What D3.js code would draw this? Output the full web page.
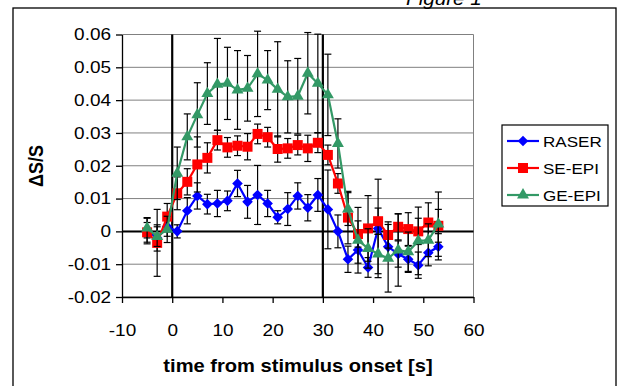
<!DOCTYPE html>
<html>
<head>
<meta charset="utf-8">
<script src="https://cdn.jsdelivr.net/npm/d3@7"></script>
<style>
  body { margin: 0; background: #fff; }
  svg { display: block; font-family: "Liberation Sans", Arial, sans-serif; }
</style>
</head>
<body>
<div id="chart"></div>
<script>
// time points (s) and the three series
let times = [-5, -3, -1, 1, 3, 5, 7, 9, 11, 13, 15, 17, 19, 21, 23, 25, 27, 29, 31, 33, 35, 37, 39, 41, 43, 45, 47, 49, 51, 53];

let raser = [0.0002, -0.002, 0.0015, 0, 0.0063, 0.0108, 0.0083, 0.0085, 0.0093, 0.0146, 0.009, 0.0111, 0.0085, 0.0043, 0.0068,
    0.0108, 0.0072, 0.0111, 0.0067, 0, -0.0085, -0.0057, -0.011, 0.0009, -0.0047, -0.0069, -0.0085, -0.0103, -0.0065, -0.0047];
let raserErr = [0.004, 0.004, 0.003, 0.002, 0.004, 0.004, 0.003, 0.004, 0.003, 0.004, 0.005, 0.009, 0.004, 0.002, 0.005,
    0.004, 0.004, 0.005, 0.012, 0.005, 0.004, 0.004, 0.003, 0.015, 0.004, 0.004, 0.004, 0.004, 0.004, 0.004];

let seEpi = [-0.0003, -0.0035, 0.0045, 0.0116, 0.0151, 0.0204, 0.0224, 0.0278, 0.0256, 0.0261, 0.0258, 0.0297, 0.0287, 0.0251, 0.0253,
    0.0263, 0.0253, 0.027, 0.0233, 0.0146, 0.0042, -0.0008, 0.0009, 0.0031, -0.0011, 0.0014, 0.0007, 0, 0.0027, 0.0017];
let seEpiErr = [0.003, 0.0102, 0.004, 0.005, 0.004, 0.0084, 0.0046, 0.003, 0.003, 0.003, 0.004, 0.003, 0.003, 0.004, 0.003,
    0.003, 0.004, 0.003, 0.003, 0.003, 0.008, 0.004, 0.01, 0.004, 0.004, 0.004, 0.005, 0.004, 0.006, 0.005];

let geEpi = [0.001, -0.0016, 0.0006, 0.0177, 0.0288, 0.0355, 0.042, 0.0448, 0.0451, 0.0431, 0.0436, 0.048, 0.0461, 0.0433, 0.041,
    0.0412, 0.0482, 0.0451, 0.0416, 0.0268, 0.0068, -0.0027, -0.0052, -0.0069, -0.0082, -0.0057, -0.0062, -0.0029, -0.0027, 0.0022];
let geEpiErr = [0.003, 0.003, 0.004, 0.008, 0.007, 0.0098, 0.0094, 0.014, 0.011, 0.012, 0.01, 0.013, 0.009, 0.0145, 0.011,
    0.0115, 0.0124, 0.015, 0.0124, 0.0075, 0.005, 0.01, 0.006, 0.006, 0.0103, 0.011, 0.006, 0.0103, 0.005, 0.0098];

let seriesNames = ["RASER", "SE-EPI", "GE-EPI"];
let xTicks = [-10, 0, 10, 20, 30, 40, 50, 60];
let yTicks = [-0.02, -0.01, 0, 0.01, 0.02, 0.03, 0.04, 0.05, 0.06];
let stimulusEdges = [0, 30];

let series = [
    { name: seriesNames[0], values: raser, err: raserErr, color: "#0000ff", shape: "diamond" },
    { name: seriesNames[1], values: seEpi, err: seEpiErr, color: "#ff0000", shape: "square" },
    { name: seriesNames[2], values: geEpi, err: geEpiErr, color: "#339966", shape: "triangle" }
];

let W = 622, H = 386;
let stretchX = 1.15; // text in the picture is a bit wider than tall

let svg = d3.select("#chart").append("svg")
    .attr("width", W)
    .attr("height", H);

// outer frame and the clipped caption above it
svg.append("rect")
    .attr("x", 13).attr("y", 8)
    .attr("width", 603).attr("height", 400)
    .attr("fill", "none")
    .attr("stroke", "#000")
    .attr("stroke-width", 1.3);

function label(x, y, txt, opts) {
    let g = svg.append("g").attr("transform", "translate(" + x + "," + y + ")" + (opts.rotate ? " rotate(-90)" : ""));
    let t = g.append("text")
        .attr("text-anchor", opts.anchor || "start")
        .attr("transform", opts.rotate ? "scale(1," + stretchX + ")" : "scale(" + stretchX + ",1)")
        .style("font-size", opts.size + "px")
        .style("font-weight", opts.bold ? "bold" : "normal")
        .style("font-style", opts.italic ? "italic" : "normal")
        .text(txt);
    return t;
}

label(406, 5, "Figure 1", { size: 18, italic: true });

let x = d3.scaleLinear().domain([-10, 60]).range([122, 473.5]);
let y = d3.scaleLinear().domain([-0.02, 0.06]).range([297, 34.5]);

// gridlines
svg.append("g")
    .selectAll("line")
    .data(yTicks)
    .join("line")
    .attr("x1", x(-10)).attr("x2", x(60))
    .attr("y1", d => y(d)).attr("y2", d => y(d))
    .attr("stroke", "#808080")
    .attr("stroke-width", 1);

svg.append("line")
    .attr("x1", x(60)).attr("x2", x(60))
    .attr("y1", y(0.06)).attr("y2", y(-0.02))
    .attr("stroke", "#808080");

// axes
let fmt = d => d === 0 ? "0" : d.toFixed(2);

let yAxis = svg.append("g")
    .attr("transform", "translate(" + x(-10) + ",0)")
    .call(d3.axisLeft(y).tickValues(yTicks).tickFormat(fmt).tickSize(6).tickSizeOuter(0).tickPadding(5));

let xAxis = svg.append("g")
    .attr("transform", "translate(0," + y(-0.02) + ")")
    .call(d3.axisBottom(x).tickValues(xTicks).tickSize(6).tickSizeOuter(0).tickPadding(21));

[yAxis, xAxis].forEach(function (ax) {
    ax.select(".domain").attr("stroke", "#000").attr("stroke-width", 1.3);
    ax.selectAll(".tick line").attr("stroke", "#000").attr("stroke-width", 1.3);
    ax.selectAll(".tick text")
        .style("font-size", "16.5px")
        .style("font-family", "'Liberation Sans', Arial, sans-serif")
        .attr("fill", "#000")
        .each(function () {
            let t = d3.select(this);
            t.attr("x", (+t.attr("x") || 0) / stretchX)
                .attr("transform", "scale(" + stretchX + ",1)");
        });
});
xAxis.selectAll(".tick text").text(d => String(d).replace("\u2212", "-"));

// zero line and stimulus on/off lines
svg.append("line")
    .attr("x1", x(-10)).attr("x2", x(60))
    .attr("y1", y(0)).attr("y2", y(0))
    .attr("stroke", "#000")
    .attr("stroke-width", 2);

svg.append("g")
    .selectAll("line")
    .data(stimulusEdges)
    .join("line")
    .attr("x1", d => x(d)).attr("x2", d => x(d))
    .attr("y1", y(0.06)).attr("y2", y(-0.02))
    .attr("stroke", "#000")
    .attr("stroke-width", 2.2);

// markers
let shapes = {
    diamond: d3.symbol().type(d3.symbolSquare).size(56),
    square: d3.symbol().type(d3.symbolSquare).size(100),
    triangle: d3.symbol().type(d3.symbolTriangle).size(62)
};

function drawMarker(sel, s) {
    sel.attr("d", shapes[s.shape]())
        .attr("fill", s.color)
        .attr("stroke", "none");
    if (s.shape === "diamond") {
        sel.attr("transform", function () {
            return d3.select(this).attr("transform") + " rotate(45)";
        });
    }
}

let line = d3.line()
    .x(d => x(d[0]))
    .y(d => y(d[1]));

let capW = 3.5;

series.forEach(function (s) {
    let pts = times.map((t, i) => [t, s.values[i], s.err[i]]);
    let g = svg.append("g");

    // error bars
    let eb = g.append("g")
        .selectAll("g")
        .data(pts)
        .join("g")
        .attr("stroke", "#000")
        .attr("stroke-width", 1.2);
    eb.append("line")
        .attr("x1", d => x(d[0])).attr("x2", d => x(d[0]))
        .attr("y1", d => y(d[1] + d[2])).attr("y2", d => y(d[1] - d[2]));
    eb.append("line")
        .attr("x1", d => x(d[0]) - capW).attr("x2", d => x(d[0]) + capW)
        .attr("y1", d => y(d[1] + d[2])).attr("y2", d => y(d[1] + d[2]));
    eb.append("line")
        .attr("x1", d => x(d[0]) - capW).attr("x2", d => x(d[0]) + capW)
        .attr("y1", d => y(d[1] - d[2])).attr("y2", d => y(d[1] - d[2]));

    g.append("path")
        .datum(pts)
        .attr("d", line)
        .attr("fill", "none")
        .attr("stroke", s.color)
        .attr("stroke-width", 2.2);

    g.append("g")
        .selectAll("path")
        .data(pts)
        .join("path")
        .attr("transform", d => "translate(" + x(d[0]) + "," + y(d[1]) + ")")
        .call(drawMarker, s);
});

// legend
let legend = svg.append("g");
legend.append("rect")
    .attr("x", 502).attr("y", 125)
    .attr("width", 106).attr("height", 81)
    .attr("fill", "#fff")
    .attr("stroke", "#000")
    .attr("stroke-width", 1.2);

series.forEach(function (s, i) {
    let ly = 141 + i * 27;
    legend.append("line")
        .attr("x1", 507).attr("x2", 539)
        .attr("y1", ly).attr("y2", ly)
        .attr("stroke", s.color)
        .attr("stroke-width", 2.2);
    legend.append("path")
        .attr("transform", "translate(523," + ly + ")")
        .call(drawMarker, s);
    let lg = legend.append("g").attr("transform", "translate(543," + (ly + 6) + ")");
    lg.append("text")
        .attr("transform", "scale(1.1,1)")
        .style("font-size", "15.5px")
        .text(s.name);
});

// axis titles
label(298, 372, "time from stimulus onset [s]", { size: 17.5, bold: true, anchor: "middle" });
label(43, 166, "\u0394S/S", { size: 18, bold: true, anchor: "middle", rotate: true });
</script>
</body>
</html>
